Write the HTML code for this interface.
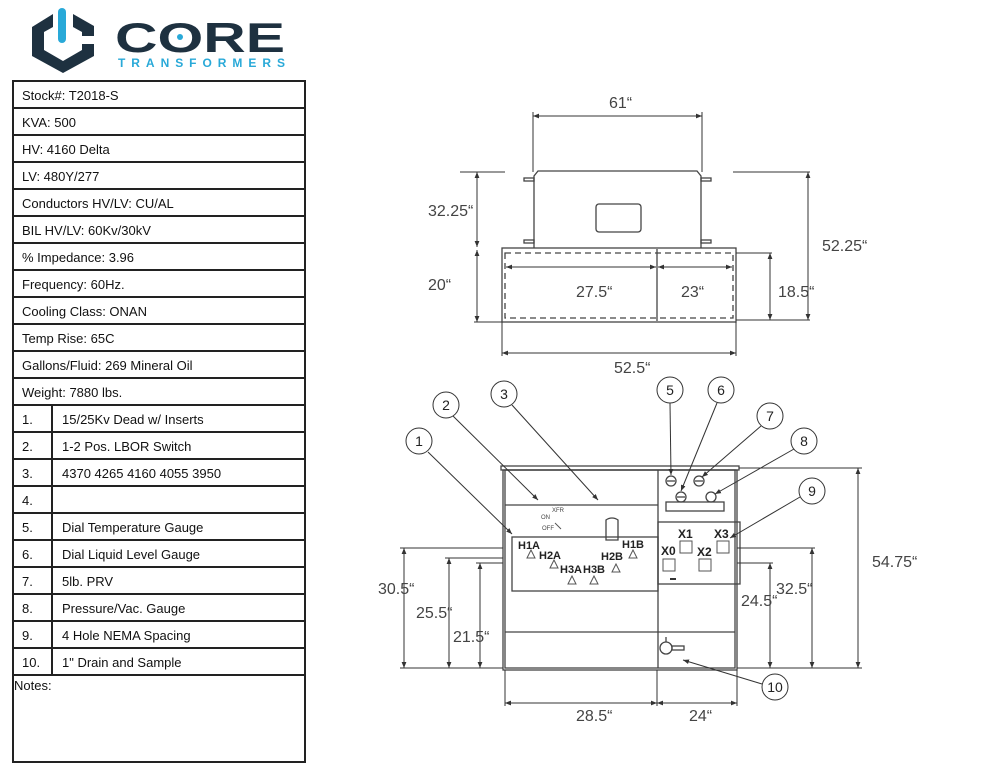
<!DOCTYPE html>
<html><head><meta charset="utf-8"><style>
body{margin:0;background:#fff;}
svg{display:block;font-family:"Liberation Sans",sans-serif;}
</style></head><body>
<svg width="1000" height="773" viewBox="0 0 1000 773" xmlns="http://www.w3.org/2000/svg">
<defs>
<marker id="a" viewBox="0 0 10 10" refX="10" refY="5" markerWidth="6" markerHeight="6" orient="auto-start-reverse"><path d="M0,1 L10,5 L0,9 z" fill="#333"/></marker>
</defs>
<!-- Logo -->
<g>
<path d="M53,14 L32,27 L32,56 L63,73 L94,56 L94,44 L82,44 L82,50 L63,61 L44,50 L44,32 L53,27 Z" fill="#1e3140"/>
<path d="M73,14 L94,26 L94,36 L82,36 L82,32 L73,27 Z" fill="#1e3140"/>
<rect x="58" y="8" width="8" height="35" rx="4" fill="#29a9d8"/>
<text x="115" y="52" font-size="42" font-weight="bold" fill="#1e3140" textLength="170" lengthAdjust="spacingAndGlyphs">CORE</text>
<circle cx="180" cy="37" r="3" fill="#29a9d8"/>
<text x="118" y="67" font-size="12" font-weight="bold" fill="#29a9d8" textLength="167" lengthAdjust="spacing">TRANSFORMERS</text>
</g>
<!-- Table -->
<g stroke="#222" stroke-width="2" fill="none">
<rect x="13" y="81" width="292" height="681"/>
<line x1="13" y1="108" x2="305" y2="108"/><line x1="13" y1="135" x2="305" y2="135"/>
<line x1="13" y1="162" x2="305" y2="162"/><line x1="13" y1="189" x2="305" y2="189"/>
<line x1="13" y1="216" x2="305" y2="216"/><line x1="13" y1="243" x2="305" y2="243"/>
<line x1="13" y1="270" x2="305" y2="270"/><line x1="13" y1="297" x2="305" y2="297"/>
<line x1="13" y1="324" x2="305" y2="324"/><line x1="13" y1="351" x2="305" y2="351"/>
<line x1="13" y1="378" x2="305" y2="378"/><line x1="13" y1="405" x2="305" y2="405"/>
<line x1="13" y1="432" x2="305" y2="432"/><line x1="13" y1="459" x2="305" y2="459"/>
<line x1="13" y1="486" x2="305" y2="486"/><line x1="13" y1="513" x2="305" y2="513"/>
<line x1="13" y1="540" x2="305" y2="540"/><line x1="13" y1="567" x2="305" y2="567"/>
<line x1="13" y1="594" x2="305" y2="594"/><line x1="13" y1="621" x2="305" y2="621"/>
<line x1="13" y1="648" x2="305" y2="648"/><line x1="13" y1="675" x2="305" y2="675"/>
<line x1="52" y1="405" x2="52" y2="675"/>
</g>
<g font-size="13" fill="#111">
<text x="22" y="100">Stock#: T2018-S</text>
<text x="22" y="127">KVA: 500</text>
<text x="22" y="154">HV: 4160 Delta</text>
<text x="22" y="181">LV: 480Y/277</text>
<text x="22" y="208">Conductors HV/LV: CU/AL</text>
<text x="22" y="235">BIL HV/LV: 60Kv/30kV</text>
<text x="22" y="262">% Impedance: 3.96</text>
<text x="22" y="289">Frequency: 60Hz.</text>
<text x="22" y="316">Cooling Class: ONAN</text>
<text x="22" y="343">Temp Rise: 65C</text>
<text x="22" y="370">Gallons/Fluid: 269 Mineral Oil</text>
<text x="22" y="397">Weight: 7880 lbs.</text>
<text x="22" y="424">1.</text><text x="62" y="424">15/25Kv Dead w/ Inserts</text>
<text x="22" y="451">2.</text><text x="62" y="451">1-2 Pos. LBOR Switch</text>
<text x="22" y="478">3.</text><text x="62" y="478">4370 4265 4160 4055 3950</text>
<text x="22" y="505">4.</text>
<text x="22" y="532">5.</text><text x="62" y="532">Dial Temperature Gauge</text>
<text x="22" y="559">6.</text><text x="62" y="559">Dial Liquid Level Gauge</text>
<text x="22" y="586">7.</text><text x="62" y="586">5lb. PRV</text>
<text x="22" y="613">8.</text><text x="62" y="613">Pressure/Vac. Gauge</text>
<text x="22" y="640">9.</text><text x="62" y="640">4 Hole NEMA Spacing</text>
<text x="22" y="667">10.</text><text x="62" y="667">1" Drain and Sample</text>
<text x="14" y="690">Notes:</text>
</g>
<!-- Top view -->
<g stroke="#444" stroke-width="1.3" fill="none">
<path d="M534,248 L534,176 L538,171 L697,171 L701,176 L701,248"/>
<rect x="524" y="178" width="10" height="3"/><rect x="701" y="178" width="10" height="3"/>
<rect x="524" y="240" width="10" height="3"/><rect x="701" y="240" width="10" height="3"/>
<rect x="596" y="204" width="45" height="28" rx="3"/>
<rect x="502" y="248" width="234" height="74"/>
<rect x="505" y="253" width="228" height="65" stroke-dasharray="6,4"/>
<line x1="657" y1="249" x2="657" y2="321"/>
</g>
<g stroke="#333" stroke-width="1" fill="none">
<line x1="533" y1="116" x2="702" y2="116" marker-start="url(#a)" marker-end="url(#a)"/>
<line x1="533" y1="112" x2="533" y2="172"/><line x1="702" y1="112" x2="702" y2="172"/>
<line x1="506" y1="267" x2="656" y2="267" marker-start="url(#a)" marker-end="url(#a)"/>
<line x1="658" y1="267" x2="732" y2="267" marker-start="url(#a)" marker-end="url(#a)"/>
<line x1="460" y1="172" x2="505" y2="172"/><line x1="733" y1="172" x2="810" y2="172"/>
<line x1="477" y1="172" x2="477" y2="247" marker-start="url(#a)" marker-end="url(#a)"/>
<line x1="477" y1="250" x2="477" y2="322" marker-start="url(#a)" marker-end="url(#a)"/>
<line x1="474" y1="322" x2="502" y2="322"/>
<line x1="808" y1="172" x2="808" y2="320" marker-start="url(#a)" marker-end="url(#a)"/>
<line x1="770" y1="253" x2="770" y2="320" marker-start="url(#a)" marker-end="url(#a)"/>
<line x1="736" y1="253" x2="772" y2="253"/><line x1="736" y1="320" x2="810" y2="320"/>
<line x1="502" y1="322" x2="502" y2="356"/><line x1="736" y1="322" x2="736" y2="356"/>
<line x1="502" y1="353" x2="736" y2="353" marker-start="url(#a)" marker-end="url(#a)"/>
</g>
<g font-size="16" fill="#444">
<text x="609" y="108">61“</text>
<text x="428" y="216">32.25“</text>
<text x="428" y="290">20“</text>
<text x="576" y="297">27.5“</text>
<text x="681" y="297">23“</text>
<text x="778" y="297">18.5“</text>
<text x="822" y="251">52.25“</text>
<text x="614" y="373">52.5“</text>
</g>
<!-- Front view -->
<g stroke="#444" stroke-width="1.3" fill="none">
<rect x="501" y="466" width="238" height="4"/>
<rect x="505" y="470" width="230" height="198"/>
<rect x="503" y="470" width="234" height="200"/>
<line x1="658" y1="470" x2="658" y2="668"/>
<line x1="505" y1="505" x2="658" y2="505"/>
<rect x="512" y="537" width="146" height="54"/>
<line x1="505" y1="632" x2="735" y2="632"/>
<rect x="658" y="522" width="82" height="62"/>
<rect x="666" y="502" width="58" height="9"/>
<circle cx="671" cy="481" r="5"/><line x1="667" y1="481" x2="675" y2="481"/>
<circle cx="699" cy="481" r="5"/><line x1="695" y1="481" x2="703" y2="481"/>
<circle cx="681" cy="497" r="5"/><line x1="677" y1="497" x2="685" y2="497"/>
<circle cx="711" cy="497" r="5"/>
<path d="M606,540 L606,520 A10,10 0 0 1 618,520 L618,540 Z"/>
<circle cx="666" cy="648" r="6"/><rect x="672" y="646" width="12" height="4"/>
<line x1="666" y1="637" x2="666" y2="642"/>
</g>
<g stroke="#555" stroke-width="1" fill="none">
<path d="M527,558 l4,-8 l4,8z M550,568 l4,-8 l4,8z M568,584 l4,-8 l4,8z M590,584 l4,-8 l4,8z M612,572 l4,-8 l4,8z M629,558 l4,-8 l4,8z"/>
<rect x="680" y="541" width="12" height="12"/><rect x="717" y="541" width="12" height="12"/>
<rect x="663" y="559" width="12" height="12"/><rect x="699" y="559" width="12" height="12"/>
<line x1="555" y1="523" x2="561" y2="529"/>
</g>
<g font-size="6" fill="#444"><text x="541" y="519">ON</text><text x="552" y="512">XFR</text><text x="542" y="530">OFF</text></g>
<rect x="670" y="578" width="6" height="2" fill="#333"/>
<g font-size="11" font-weight="bold" fill="#222">
<text x="518" y="549">H1A</text><text x="539" y="559">H2A</text><text x="560" y="573">H3A</text>
<text x="583" y="573">H3B</text><text x="601" y="560">H2B</text><text x="622" y="548">H1B</text>
</g>
<g font-size="12" font-weight="bold" fill="#222">
<text x="678" y="538">X1</text><text x="714" y="538">X3</text>
<text x="661" y="555">X0</text><text x="697" y="556">X2</text>
</g>
<!-- front dims -->
<g stroke="#333" stroke-width="1" fill="none">
<line x1="400" y1="548" x2="503" y2="548"/><line x1="445" y1="558" x2="503" y2="558"/><line x1="476" y1="563" x2="503" y2="563"/>
<line x1="400" y1="668" x2="503" y2="668"/>
<line x1="404" y1="548" x2="404" y2="668" marker-start="url(#a)" marker-end="url(#a)"/>
<line x1="449" y1="558" x2="449" y2="668" marker-start="url(#a)" marker-end="url(#a)"/>
<line x1="480" y1="563" x2="480" y2="668" marker-start="url(#a)" marker-end="url(#a)"/>
<line x1="737" y1="548" x2="815" y2="548"/><line x1="737" y1="563" x2="773" y2="563"/>
<line x1="737" y1="668" x2="862" y2="668"/><line x1="739" y1="468" x2="862" y2="468"/>
<line x1="812" y1="548" x2="812" y2="668" marker-start="url(#a)" marker-end="url(#a)"/>
<line x1="770" y1="563" x2="770" y2="668" marker-start="url(#a)" marker-end="url(#a)"/>
<line x1="858" y1="468" x2="858" y2="668" marker-start="url(#a)" marker-end="url(#a)"/>
<line x1="505" y1="670" x2="505" y2="706"/><line x1="657" y1="670" x2="657" y2="706"/><line x1="737" y1="670" x2="737" y2="706"/>
<line x1="505" y1="703" x2="657" y2="703" marker-start="url(#a)" marker-end="url(#a)"/>
<line x1="657" y1="703" x2="737" y2="703" marker-start="url(#a)" marker-end="url(#a)"/>
</g>
<g font-size="16" fill="#444">
<text x="378" y="594">30.5“</text>
<text x="416" y="618">25.5“</text>
<text x="453" y="642">21.5“</text>
<text x="741" y="606">24.5“</text>
<text x="776" y="594">32.5“</text>
<text x="872" y="567">54.75“</text>
<text x="576" y="721">28.5“</text>
<text x="689" y="721">24“</text>
</g>
<!-- callouts -->
<g stroke="#333" stroke-width="1" fill="none">
<line x1="428" y1="452" x2="512" y2="534" marker-end="url(#a)"/>
<line x1="453" y1="416" x2="538" y2="500" marker-end="url(#a)"/>
<line x1="512" y1="405" x2="598" y2="500" marker-end="url(#a)"/>
<line x1="670" y1="403" x2="671" y2="475" marker-end="url(#a)"/>
<line x1="717" y1="403" x2="681" y2="491" marker-end="url(#a)"/>
<line x1="761" y1="426" x2="702" y2="477" marker-end="url(#a)"/>
<line x1="794" y1="449" x2="715" y2="494" marker-end="url(#a)"/>
<line x1="800" y1="497" x2="730" y2="538" marker-end="url(#a)"/>
<line x1="762" y1="684" x2="683" y2="660" marker-end="url(#a)"/>
</g>
<g stroke="#333" stroke-width="1" fill="#fff">
<circle cx="419" cy="441" r="13"/><circle cx="446" cy="405" r="13"/><circle cx="504" cy="394" r="13"/>
<circle cx="670" cy="390" r="13"/><circle cx="721" cy="390" r="13"/><circle cx="770" cy="416" r="13"/>
<circle cx="804" cy="441" r="13"/><circle cx="812" cy="491" r="13"/><circle cx="775" cy="687" r="13"/>
</g>
<g font-size="14" fill="#222" text-anchor="middle">
<text x="419" y="446">1</text><text x="446" y="410">2</text><text x="504" y="399">3</text>
<text x="670" y="395">5</text><text x="721" y="395">6</text><text x="770" y="421">7</text>
<text x="804" y="446">8</text><text x="812" y="496">9</text><text x="775" y="692">10</text>
</g>
</svg>
</body></html>
